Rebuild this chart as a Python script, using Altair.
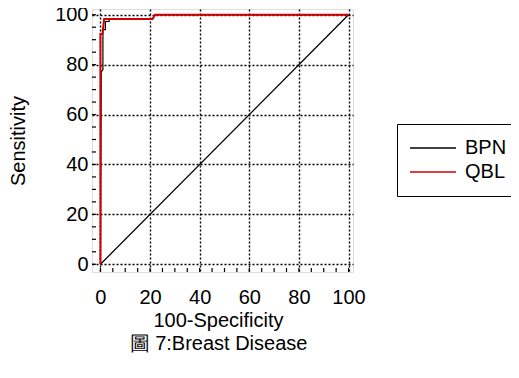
import altair as alt
import pandas as pd

# ROC curve data (100-Specificity, Sensitivity)
bpn_x = [0, 0.3, 0.3, 1.0, 1.0, 2.0, 2.0, 3.5, 3.5, 21, 22, 100]
bpn_y = [0, 71, 77, 78, 94, 94, 97.3, 97.3, 98.3, 98.3, 100, 100]
qbl_x = [0, 0, 0.8, 1.5, 21, 22, 100]
qbl_y = [0, 92.3, 92.3, 98.3, 98.3, 100, 100]
diag_x = [0, 100]
diag_y = [0, 100]
series = ["BPN", "QBL"]
colors = ["#000000", "#d40000"]
major_ticks = [0, 20, 40, 60, 80, 100]
minor_ticks = list(range(0, 101, 5))

bpn = pd.DataFrame({"x": bpn_x, "y": bpn_y, "series": "BPN", "i": range(len(bpn_x))})
qbl = pd.DataFrame({"x": qbl_x, "y": qbl_y, "series": "QBL", "i": range(len(qbl_x))})
diag = pd.DataFrame({"x": diag_x, "y": diag_y})
ticks = pd.DataFrame({"t": minor_ticks})

FONT = "Liberation Sans"
FS = 20
W, H = 261, 263
xs = alt.Scale(domain=[-3.4, 101.8], nice=False, zero=False)
ys = alt.Scale(domain=[-3.1, 102.3], nice=False, zero=False)

xaxis = alt.Axis(values=major_ticks, grid=True, gridDash=[2, 2], gridColor="black",
                 gridWidth=1.4, gridOpacity=1, ticks=False, domain=False,
                 labelFontSize=FS, labelFont=FONT, labelColor="black", labelPadding=15,
                 title=["100-Specificity", "圖 7:Breast Disease"], titleFontSize=FS,
                 titleFont=FONT, titleFontWeight="normal", titleColor="black",
                 titlePadding=3, titleLineHeight=23, titleX=126, titleAlign="center")
yaxis = alt.Axis(values=major_ticks, grid=True, gridDash=[2, 2], gridColor="black",
                 gridWidth=1.4, gridOpacity=1, ticks=False, domain=False,
                 labelFontSize=FS, labelFont=FONT, labelColor="black", labelPadding=4,
                 title="Sensitivity", titleFontSize=FS, titleFont=FONT,
                 titleFontWeight="normal", titleColor="black", titlePadding=26)

color_scale = alt.Scale(domain=series, range=colors)
legend = alt.Legend(title=None, orient="none", legendX=305, legendY=115,
                    strokeColor="black", padding=14,
                    symbolType="M-4,0H4", symbolSize=132,
                    symbolStrokeWidth=1.5, symbolOffset=12,
                    labelOffset=22, labelFontSize=FS, labelFont=FONT,
                    labelExpr="datum.label + '   '",
                    labelColor="black", rowPadding=4)

diag_layer = alt.Chart(diag).mark_line(color="black", strokeWidth=1.3).encode(
    x=alt.X("x:Q", scale=xs, axis=xaxis),
    y=alt.Y("y:Q", scale=ys, axis=yaxis),
)

bpn_layer = alt.Chart(bpn).mark_line(strokeWidth=1.2).encode(
    x=alt.X("x:Q", scale=xs),
    y=alt.Y("y:Q", scale=ys),
    order="i:Q",
    color=alt.Color("series:N", scale=color_scale, legend=legend),
)
qbl_layer = alt.Chart(qbl).mark_line(strokeWidth=2).encode(
    x=alt.X("x:Q", scale=xs),
    y=alt.Y("y:Q", scale=ys),
    order="i:Q",
    color=alt.Color("series:N", scale=color_scale, legend=legend),
)

bottom_ticks = alt.Chart(ticks).mark_rule(color="black", strokeWidth=1.2).encode(
    x=alt.X("t:Q", scale=xs),
    y=alt.value(H),
    y2=alt.value(H - 4),
)
left_ticks = alt.Chart(ticks).mark_rule(color="black", strokeWidth=1.2).encode(
    y=alt.Y("t:Q", scale=ys),
    x=alt.value(0),
    x2=alt.value(4),
)

chart = alt.layer(diag_layer, bottom_ticks, left_ticks, bpn_layer, qbl_layer).properties(
    width=W, height=H,
    autosize=alt.AutoSizeParams(type="none"),
    padding={"left": 84, "top": 1, "right": 158, "bottom": 97},
).configure_view(stroke="black", strokeWidth=2).configure(background="white")

chart.save("out.html", embed_options={"renderer": "svg", "actions": False})
